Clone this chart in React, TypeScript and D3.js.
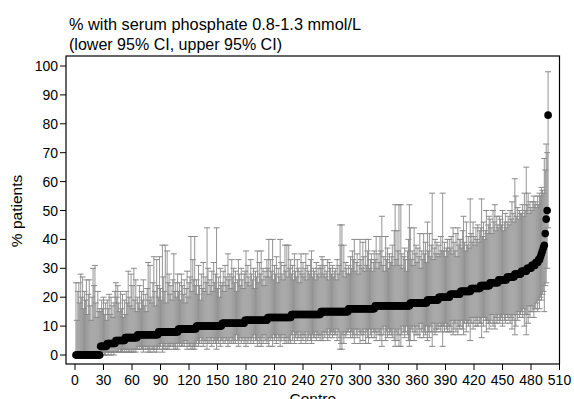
import React from 'react';
import * as d3 from 'd3';

// Sorted centre percentages, run-length encoded (value, number of centres)
const pctLevels = [0,3,4,5,6,7,8,9,10,11,12,13,14,15,16,17,18,19,20,21,22,23,24,25,26,27,28,29,30,31,32,33,34,35,36,37,38,42,47,50,83];
const pctCounts = [26,7,9,10,13,22,21,19,27,24,24,25,31,29,28,37,18,12,12,11,11,10,10,9,9,8,7,6,5,4,3,2,1,1,1,1,1,1,1,1,1];

// Upper 95% CI per centre (in centre order)
const upperCI = [
  25,12,22,25,18,28,20,27,16,22,19,26,14,21,26,17,12,20,30,24,31,18,13,22,15,16,
  15,19,16,20,14,18,12,
  19,16,21,14,20,17,13,18,22,
  25,20,24,18,15,22,16,21,13,19,
  14,22,18,29,20,17,28,24,16,30,19,26,15,
  20,18,24,16,22,19,26,17,21,15,23,32,19,31,20,18,25,34,22,17,33,24,
  20,34,23,19,38,27,22,38,18,36,25,28,21,24,19,26,35,22,25,20,28,
  22,25,19,28,24,21,26,18,23,29,20,25,27,41,22,33,26,41,24,
  26,21,31,24,19,28,23,32,22,27,25,44,30,21,26,24,29,22,32,25,28,44,23,27,20,30,24,
  25,29,22,31,27,24,35,26,28,23,33,27,30,25,29,22,26,33,28,24,30,26,23,28,
  29,36,25,31,27,24,33,28,26,30,23,29,27,36,25,32,28,36,26,30,24,29,27,33,
  30,40,27,33,29,40,26,31,28,34,25,30,27,40,32,28,26,31,38,29,38,27,38,30,33,
  28,31,26,35,29,27,33,30,25,29,35,28,32,27,30,35,26,31,29,28,33,36,27,30,29,26,32,28,30,27,31,
  30,34,33,28,31,27,29,33,26,32,30,28,31,27,29,30,26,33,28,31,45,38,45,29,38,27,32,30,28,
  31,28,34,30,36,33,40,29,32,35,28,31,40,33,30,39,34,29,40,31,36,40,30,33,35,29,32,36,
  33,41,30,35,32,41,36,48,31,34,29,41,33,37,30,35,32,34,38,31,43,52,33,43,36,52,31,52,35,30,34,37,33,29,36,40,52,
  44,33,36,31,44,35,38,32,37,34,42,30,36,33,42,35,39,32,
  46,36,42,34,38,56,33,37,40,35,39,34,
  38,35,41,36,56,36,39,34,37,40,36,40,
  37,41,35,44,39,36,42,34,44,38,40,
  40,37,43,48,39,36,46,38,41,37,54,
  42,39,46,41,38,44,40,45,39,43,
  44,54,41,46,40,43,50,42,45,48,
  47,44,42,50,46,52,43,48,45,
  44,48,47,45,50,43,46,49,44,
  46,48,45,50,47,53,49,46,
  61,55,48,51,47,50,49,
  49,52,48,56,50,65,
  52,56,49,53,51,
  50,53,55,52,
  53,51,55,
  52,56,
  55,58,57,56,68,64,73,70,98,
];

// Lower 95% CI per centre (in centre order)
const lowerCI = [
  0,0,0,0,0,0,0,0,0,0,0,0,0,0,0,0,0,0,0,0,0,0,0,0,0,0,
  0,1,0,1,0,0,1,
  1,0,1,1,0,1,1,0,1,
  1,1,1,1,2,1,1,1,2,1,
  2,1,2,1,1,2,1,1,2,1,2,1,2,
  2,3,2,3,2,2,1,3,2,3,2,1,2,1,3,2,2,1,2,3,1,2,
  3,2,3,4,1,2,3,2,4,2,3,2,3,3,4,3,2,3,2,4,2,
  4,3,4,3,3,4,3,5,4,2,4,3,3,2,4,2,3,2,3,
  4,5,3,4,6,4,5,3,5,4,5,2,4,6,4,5,3,6,4,5,4,2,5,4,6,3,5,
  5,4,6,4,5,5,3,5,4,6,4,5,4,5,4,7,5,3,5,6,4,5,6,4,
  5,3,6,4,5,6,4,5,6,4,7,5,5,3,6,4,5,3,6,4,7,5,5,4,
  5,3,6,5,6,3,7,5,6,4,7,5,6,3,5,6,7,5,4,6,4,6,4,5,4,
  7,5,8,4,6,7,5,6,8,6,4,7,5,7,6,4,8,5,6,7,5,4,7,6,6,8,5,7,6,7,5,
  7,5,5,8,6,8,7,5,9,6,7,8,6,8,7,7,9,5,8,6,2,4,2,7,4,8,6,7,8,
  8,9,6,8,6,7,4,9,7,6,9,8,4,7,8,5,7,9,4,8,6,4,9,7,6,9,8,6,
  8,5,9,7,8,5,7,3,9,7,10,5,8,6,9,7,8,7,6,9,5,3,8,5,7,3,9,3,7,10,8,6,8,10,7,5,3,
  5,9,8,10,5,8,7,10,7,9,6,11,8,9,6,8,7,10,
  5,8,6,10,8,3,11,8,7,9,8,10,
  9,11,8,10,3,10,8,11,9,8,10,8,
  10,8,12,7,9,11,8,12,7,10,9,
  10,12,9,7,11,12,8,11,10,12,5,
  11,13,9,11,13,10,12,10,13,11,
  11,6,13,10,13,12,8,12,11,9,
  11,12,14,10,11,9,13,11,12,
  14,11,12,13,10,14,12,11,14,
  13,12,14,11,13,9,12,14,
  7,10,14,12,15,13,14,
  15,13,16,10,14,7,
  14,11,17,13,15,
  17,15,13,16,
  16,18,15,
  19,16,
  20,19,21,22,15,24,25,30,44,
];

const xTicks = [0,30,60,90,120,150,180,210,240,270,300,330,360,390,420,450,480,510];
const yTicks = [0,10,20,30,40,50,60,70,80,90,100];

const titleLine1 = '% with serum phosphate 0.8-1.3 mmol/L';
const titleLine2 = '(lower 95% CI, upper 95% CI)';
const yTitle = '% patients';
const xTitle = 'Centre';

export default function App() {
  const W = 574, H = 399;
  const frame = { left: 66, right: 559.5, top: 56, bottom: 364 };
  const x = d3.scaleLinear().domain([0, 510]).range([75, 559.5]);
  const y = d3.scaleLinear().domain([0, 100]).range([355, 66]);

  const pct: number[] = [];
  pctLevels.forEach((v, i) => {
    for (let k = 0; k < pctCounts[i]; k++) pct.push(v);
  });
  const rows = pct.map((p, i) => ({
    centre: i + 1,
    p,
    lo: lowerCI[i] ?? p,
    hi: upperCI[i] ?? p,
  }));

  const font = '"Liberation Sans", Arial, Helvetica, sans-serif';
  const grey = '#898989';
  const capHalf = 3;

  return (
    <svg width={W} height={H} style={{ position: 'absolute', left: 0, top: 0, background: '#fff' }} fontFamily={font}>
      <rect x={0} y={0} width={W} height={H} fill="#fff" />
      <text x={69} y={30} fontSize={16.3} fill="#000" textLength={292} lengthAdjust="spacingAndGlyphs">{titleLine1}</text>
      <text x={69} y={49.5} fontSize={16.3} fill="#000" textLength={213} lengthAdjust="spacingAndGlyphs">{titleLine2}</text>

      <g>
        {rows.map(r => (
          <line key={'v' + r.centre} x1={x(r.centre)} x2={x(r.centre)} y1={y(r.lo)} y2={y(r.hi)} stroke={grey} strokeWidth={0.9} />
        ))}
        {rows.map(r => (
          <g key={'c' + r.centre}>
            <line x1={x(r.centre) - capHalf} x2={x(r.centre) + capHalf} y1={y(r.hi)} y2={y(r.hi)} stroke={grey} strokeWidth={1} />
            <line x1={x(r.centre) - capHalf} x2={x(r.centre) + capHalf} y1={y(r.lo)} y2={y(r.lo)} stroke={grey} strokeWidth={1} />
          </g>
        ))}
        {rows.map(r => (
          <circle key={'p' + r.centre} cx={x(r.centre)} cy={y(r.p)} r={3.8} fill="#000" />
        ))}
      </g>

      <rect x={frame.left} y={frame.top} width={frame.right - frame.left} height={frame.bottom - frame.top} fill="none" stroke="#000" strokeWidth={1.2} />

      {yTicks.map(t => (
        <g key={'yt' + t}>
          <line x1={frame.left - 6} x2={frame.left} y1={y(t)} y2={y(t)} stroke="#000" strokeWidth={1} />
          <text x={frame.left - 8} y={y(t) + 5} fontSize={14} textAnchor="end" fill="#000">{t}</text>
        </g>
      ))}
      {xTicks.map(t => (
        <g key={'xt' + t}>
          <line x1={x(t)} x2={x(t)} y1={frame.bottom} y2={frame.bottom + 6} stroke="#000" strokeWidth={1} />
          <text x={x(t)} y={385} fontSize={14} textAnchor="middle" fill="#000">{t}</text>
        </g>
      ))}
      <text x={(frame.left + frame.right) / 2} y={404} fontSize={15.5} textAnchor="middle" fill="#000">{xTitle}</text>
      <text transform={`translate(21.5, 211) rotate(-90)`} fontSize={15.5} textAnchor="middle" fill="#000">{yTitle}</text>
    </svg>
  );
}
